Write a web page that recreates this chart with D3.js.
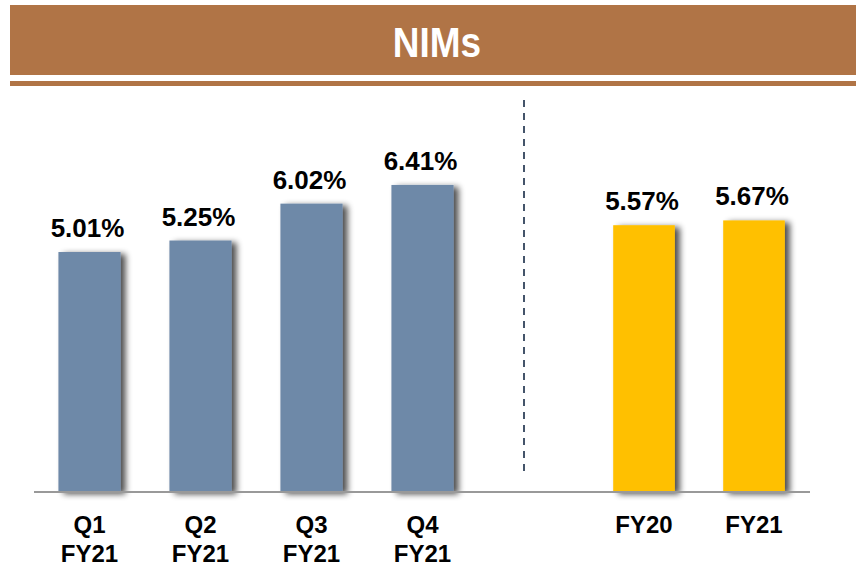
<!DOCTYPE html>
<html>
<head>
<meta charset="utf-8">
<script src="https://cdn.jsdelivr.net/npm/d3@7"></script>
<style>
  html, body { margin: 0; padding: 0; background: #fff; }
  svg { display: block; font-family: "Liberation Sans", Arial, sans-serif; }
</style>
</head>
<body>
<svg id="chart" width="856" height="566"></svg>
<script>
// Quarterly NIMs (FY21)
const quarterCategories = [["Q1", "FY21"], ["Q2", "FY21"], ["Q3", "FY21"], ["Q4", "FY21"]];
const quarterValues = [5.01, 5.25, 6.02, 6.41];
// Annual NIMs
const yearCategories = [["FY20"], ["FY21"]];
const yearValues = [5.57, 5.67];
const titleText = "NIMs";

const svg = d3.select("#chart");
const W = 856;

// Drop shadow to the right of each bar
const defs = svg.append("defs");
const f = defs.append("filter").attr("id", "shadow")
  .attr("x", "-20%").attr("y", "-10%").attr("width", "150%").attr("height", "120%");
f.append("feGaussianBlur").attr("in", "SourceAlpha").attr("stdDeviation", 3).attr("result", "b");
f.append("feOffset").attr("in", "b").attr("dx", 5).attr("dy", 2).attr("result", "o");
f.append("feComponentTransfer").attr("in", "o").attr("result", "s")
  .append("feFuncA").attr("type", "linear").attr("slope", 0.7);
const m = f.append("feMerge");
m.append("feMergeNode").attr("in", "s");
m.append("feMergeNode").attr("in", "SourceGraphic");

// Header band
svg.append("rect").attr("x", 10).attr("y", 5).attr("width", W - 10).attr("height", 70).attr("fill", "#B07446");
svg.append("rect").attr("x", 10).attr("y", 81).attr("width", W - 10).attr("height", 5).attr("fill", "#B07446");
svg.append("text")
  .attr("transform", "translate(437,57) scale(0.86,1)")
  .attr("text-anchor", "middle")
  .attr("font-size", 43).attr("font-weight", "bold").attr("fill", "#fff")
  .text(titleText);

const baseY = 492;
const y = d3.scaleLinear().domain([0, 7]).range([baseY, baseY - 7 * 47.9]);

const xQ = d3.scaleBand().domain(quarterCategories.map(d => d.join(" ")))
  .range([34, 478]).paddingInner(0.44).paddingOuter(0.22);
const xY = d3.scaleBand().domain(yearCategories.map(d => d.join(" ")))
  .range([589, 809]).paddingInner(0.44).paddingOuter(0.22);

function drawGroup(cats, vals, x, color) {
  const data = cats.map((c, i) => ({ key: c.join(" "), lines: c, v: vals[i] }));
  svg.append("g").selectAll("rect").data(data).join("rect")
    .attr("x", d => x(d.key)).attr("width", x.bandwidth())
    .attr("y", d => y(d.v)).attr("height", d => y(0) - y(d.v))
    .attr("fill", color).attr("filter", "url(#shadow)");
  svg.append("g").selectAll("text").data(data).join("text")
    .attr("x", d => x(d.key) + x.bandwidth() / 2 - 2)
    .attr("y", d => y(d.v) - 15)
    .attr("text-anchor", "middle").attr("font-size", 26).attr("font-weight", "bold").attr("fill", "#000")
    .text(d => d.v.toFixed(2) + "%");
  const lab = svg.append("g").selectAll("text").data(data).join("text")
    .attr("x", d => x(d.key) + x.bandwidth() / 2)
    .attr("y", 533)
    .attr("text-anchor", "middle").attr("font-size", 24).attr("font-weight", "bold").attr("fill", "#000");
  lab.selectAll("tspan").data(d => d.lines.map(l => ({ l, x: x(d.key) + x.bandwidth() / 2 }))).join("tspan")
    .attr("x", d => d.x).attr("dy", (d, i) => i === 0 ? 0 : 29).text(d => d.l);
}

drawGroup(quarterCategories, quarterValues, xQ, "#6E89A8");
drawGroup(yearCategories, yearValues, xY, "#FFC000");

// Baseline
svg.append("line").attr("x1", 34).attr("x2", 810).attr("y1", baseY).attr("y2", baseY)
  .attr("stroke", "#999").attr("stroke-width", 2);

// Divider between quarterly and annual
svg.append("line").attr("x1", 524).attr("x2", 524).attr("y1", 100).attr("y2", 476)
  .attr("stroke", "#44546A").attr("stroke-width", 2).attr("stroke-dasharray", "7,6");
</script>
</body>
</html>
